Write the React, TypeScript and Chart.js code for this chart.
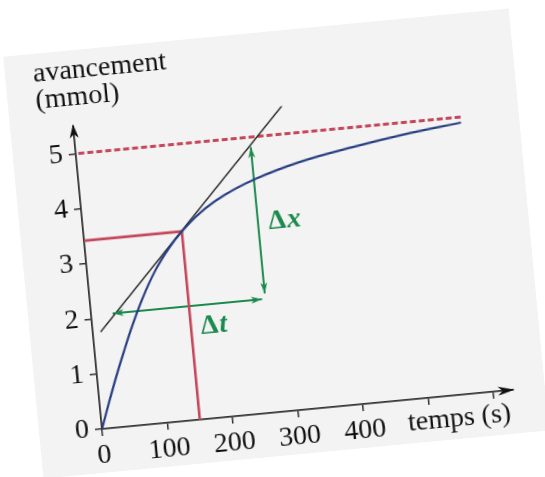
import React, { useEffect, useRef } from 'react';
import { Chart, registerables } from 'chart.js';

Chart.register(...registerables);

// ---- data ----
const timeValues = [0, 15, 30, 45, 60, 80, 105, 130, 150, 180, 220, 270, 340, 420, 500, 590];
const advancementValues = [0, 0.48, 0.94, 1.37, 1.78, 2.27, 2.78, 3.17, 3.42, 3.72, 4.0, 4.24, 4.47, 4.64, 4.78, 4.9];
const tangentTimes = [12, 322];
const tangentValues = [1.75, 5.53];
const asymptoteTimes = [4, 594];
const asymptoteValue = 5;
const pointTime = 150;
const pointValue = 3.42;
const deltaTTimes = [33, 262];
const deltaTValue = 2.06;
const deltaXTime = 267;
const deltaXValues = [2.16, 4.82];
const xTickValues = [0, 100, 200, 300, 400, 500, 600];
const xTickLabels = ['0', '100', '200', '300', '400', '', ''];
const yTickValues = [0, 1, 2, 3, 4, 5];
const yTickLabels = ['0', '1', '2', '3', '4', '5'];
const xAxisMax = 630;
const yAxisMax = 5.5;
const yTitleLines = ['avancement', '(mmol)'];
const xTitle = 'temps (s)';
const deltaXLabel = ['Δ', 'x'];
const deltaTLabel = ['Δ', 't'];
const deltaXLabelPos = [283, 3.44];
const deltaTLabelPos = [165, 1.67];
const xTitleStart = 466;

// ---- layout / style ----
const W = 508;
const H = 424;
const ORIGIN_X = 63;
const ORIGIN_Y = 380;
const PX_PER_S = 0.655;
const PX_PER_UNIT = 55.3;
const FONT = '"Liberation Serif", "Times New Roman", serif';
const BLUE = '#283f82';
const RED = '#c4475c';
const GREEN = '#1b8a4c';
const AXIS = '#333333';
const TEXT = '#111111';

function head(ctx: CanvasRenderingContext2D, x: number, y: number, angle: number, len: number, wid: number, color: string) {
  ctx.save();
  ctx.translate(x, y);
  ctx.rotate(angle);
  ctx.fillStyle = color;
  ctx.beginPath();
  ctx.moveTo(0, 0);
  ctx.lineTo(-len, -wid / 2);
  ctx.lineTo(-len * 0.72, 0);
  ctx.lineTo(-len, wid / 2);
  ctx.closePath();
  ctx.fill();
  ctx.restore();
}

const decorPlugin = {
  id: 'decor',
  afterDatasetsDraw(chart: any) {
    const { ctx, scales } = chart;
    const x = scales.x;
    const y = scales.y;
    head(ctx, x.getPixelForValue(xAxisMax) + 2, y.getPixelForValue(0), 0, 17, 9, '#111');
    head(ctx, x.getPixelForValue(0), y.getPixelForValue(yAxisMax) - 2, -Math.PI / 2, 14, 9, '#111');
    head(ctx, x.getPixelForValue(deltaTTimes[0]), y.getPixelForValue(deltaTValue), Math.PI, 11, 7, GREEN);
    head(ctx, x.getPixelForValue(deltaTTimes[1]), y.getPixelForValue(deltaTValue), 0, 11, 7, GREEN);
    head(ctx, x.getPixelForValue(deltaXTime), y.getPixelForValue(deltaXValues[0]), Math.PI / 2, 11, 7, GREEN);
    head(ctx, x.getPixelForValue(deltaXTime), y.getPixelForValue(deltaXValues[1]), -Math.PI / 2, 11, 7, GREEN);
  },
  afterDraw(chart: any) {
    const { ctx, scales, chartArea } = chart;
    const x = scales.x;
    const y = scales.y;
    ctx.save();
    ctx.fillStyle = TEXT;
    ctx.font = `28px ${FONT}`;
    ctx.textAlign = 'left';
    ctx.textBaseline = 'middle';
    const ox = chartArea.left;
    const oy = y.getPixelForValue(0);
    ctx.fillText(yTitleLines[0], ox - 35, oy - 359);
    ctx.fillText(yTitleLines[1], ox - 35, oy - 332);
    ctx.textBaseline = 'top';
    ctx.fillText(xTitle, x.getPixelForValue(xTitleStart), oy + 10);
    ctx.fillStyle = GREEN;
    ctx.textBaseline = 'middle';
    const drawDelta = (parts: string[], pos: number[]) => {
      const px = x.getPixelForValue(pos[0]);
      const py = y.getPixelForValue(pos[1]);
      ctx.font = `bold 28px ${FONT}`;
      ctx.fillText(parts[0], px, py);
      const w = ctx.measureText(parts[0]).width;
      ctx.font = `italic bold 28px ${FONT}`;
      ctx.fillText(parts[1], px + w + 1, py);
    };
    drawDelta(deltaXLabel, deltaXLabelPos);
    drawDelta(deltaTLabel, deltaTLabelPos);
    ctx.restore();
  },
};

export default function App() {
  const ref = useRef<HTMLCanvasElement | null>(null);
  useEffect(() => {
    if (!ref.current) return;
    const chartW = xAxisMax * PX_PER_S;
    const chartH = yAxisMax * PX_PER_UNIT;
    const chart = new Chart(ref.current, {
      type: 'line',
      data: {
        datasets: [
          {
            data: timeValues.map((t, i) => ({ x: t, y: advancementValues[i] })),
            borderColor: BLUE,
            borderWidth: 2.2,
            pointRadius: 0,
            cubicInterpolationMode: 'monotone',
          },
          {
            data: tangentTimes.map((t, i) => ({ x: t, y: tangentValues[i] })),
            borderColor: '#222',
            borderWidth: 1.4,
            pointRadius: 0,
          },
          {
            data: asymptoteTimes.map((t) => ({ x: t, y: asymptoteValue })),
            borderColor: RED,
            borderWidth: 2.8,
            borderDash: [6, 3],
            pointRadius: 0,
          },
          {
            data: [
              { x: 0, y: pointValue },
              { x: pointTime, y: pointValue },
              { x: pointTime, y: 0 },
            ],
            borderColor: RED,
            borderWidth: 2.6,
            pointRadius: 0,
          },
          {
            data: deltaTTimes.map((t) => ({ x: t, y: deltaTValue })),
            borderColor: GREEN,
            borderWidth: 2,
            pointRadius: 0,
          },
          {
            data: deltaXValues.map((v) => ({ x: deltaXTime, y: v })),
            borderColor: GREEN,
            borderWidth: 2,
            pointRadius: 0,
          },
        ],
      },
      options: {
        animation: false,
        responsive: false,
        events: [],
        layout: {
          padding: { left: 0, top: ORIGIN_Y - chartH, right: W - ORIGIN_X - chartW, bottom: 0 },
        },
        plugins: { legend: { display: false }, tooltip: { enabled: false }, title: { display: false } },
        scales: {
          x: {
            type: 'linear',
            min: 0,
            max: xAxisMax,
            afterFit: (axis: any) => { axis.height = H - ORIGIN_Y; },
            afterBuildTicks: (axis: any) => { axis.ticks = xTickValues.map((v) => ({ value: v })); },
            grid: { drawOnChartArea: false, drawTicks: true, tickLength: 7, color: AXIS, lineWidth: 1.5 },
            border: { display: true, color: AXIS, width: 1.8 },
            ticks: {
              autoSkip: false,
              maxRotation: 0,
              padding: 3,
              color: TEXT,
              font: { family: FONT, size: 28 },
              callback: (_v: any, i: number) => xTickLabels[i],
            },
          },
          y: {
            type: 'linear',
            min: 0,
            max: yAxisMax,
            afterFit: (axis: any) => { axis.width = ORIGIN_X; },
            afterBuildTicks: (axis: any) => { axis.ticks = yTickValues.map((v) => ({ value: v })); },
            grid: { drawOnChartArea: false, drawTicks: true, tickLength: 7, color: AXIS, lineWidth: 1.5 },
            border: { display: true, color: AXIS, width: 1.8 },
            ticks: {
              autoSkip: false,
              padding: 6,
              color: TEXT,
              font: { family: FONT, size: 28 },
              callback: (_v: any, i: number) => yTickLabels[i],
            },
          },
        },
      },
      plugins: [decorPlugin],
    } as any);
    return () => chart.destroy();
  }, []);

  return (
    <canvas
      ref={ref}
      width={W}
      height={H}
      style={{
        position: 'absolute',
        left: 101.5 - ORIGIN_X,
        top: 428.5 - ORIGIN_Y,
        width: W,
        height: H,
        background: '#f3f3f3',
        transformOrigin: `${ORIGIN_X}px ${ORIGIN_Y}px`,
        transform: 'rotate(-5.45deg)',
      }}
    />
  );
}
